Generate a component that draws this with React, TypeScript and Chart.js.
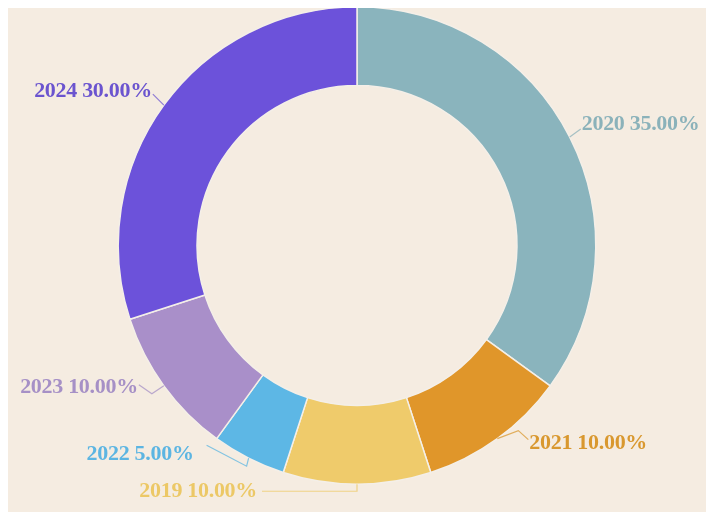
import React, { useEffect, useRef } from "react";
import { Chart, registerables } from "chart.js";

Chart.register(...registerables);

const categories = ["2020", "2021", "2019", "2022", "2023", "2024"];
const shares = [35, 10, 10, 5, 10, 30];
const sliceColors = ["#8ab4bd", "#e0962a", "#efcb6b", "#5db7e5", "#a98fc9", "#6c52da"];
const labelColors = ["#8bb2ba", "#d9982f", "#ecc866", "#5cb5e2", "#a690c6", "#6b54cf"];

// leader-line bends and text anchor, as offsets from each slice's outer mid-point
const labelLayout: { path: number[][]; text: number[]; align: CanvasTextAlign }[] = [
  { path: [[11, -8]], text: [12, -13], align: "left" },
  { path: [[21, -8], [31, 1]], text: [32, 5], align: "left" },
  { path: [[0, 7], [-95, 7]], text: [-100, 7], align: "right" },
  { path: [[-2, 8], [-42, -13]], text: [-55, -4], align: "right" },
  { path: [[-12, 8], [-25, -1]], text: [-26, 1], align: "right" },
  { path: [[-11, -11]], text: [-12, -14], align: "right" },
];

const outsideLabels = {
  id: "outsideLabels",
  afterDatasetsDraw(chart: any) {
    const ctx: CanvasRenderingContext2D = chart.ctx;
    const meta = chart.getDatasetMeta(0);
    const total = shares.reduce((a, b) => a + b, 0);
    meta.data.forEach((arc: any, i: number) => {
      const { x, y, startAngle, endAngle, outerRadius } = arc.getProps(
        ["x", "y", "startAngle", "endAngle", "outerRadius"],
        true
      );
      const mid = (startAngle + endAngle) / 2;
      const ax = x + Math.cos(mid) * outerRadius;
      const ay = y + Math.sin(mid) * outerRadius;
      const lay = labelLayout[i];
      ctx.save();
      ctx.strokeStyle = labelColors[i];
      ctx.globalAlpha = 0.75;
      ctx.lineWidth = 1.2;
      ctx.beginPath();
      ctx.moveTo(ax, ay);
      lay.path.forEach(([dx, dy]) => ctx.lineTo(ax + dx, ay + dy));
      ctx.stroke();
      ctx.globalAlpha = 1;
      ctx.fillStyle = labelColors[i];
      ctx.font = "bold 22px 'Liberation Serif', serif";
      (ctx as any).letterSpacing = "-0.3px";
      ctx.textAlign = lay.align;
      ctx.textBaseline = "middle";
      const txt = `${categories[i]} ${((shares[i] / total) * 100).toFixed(2)}%`;
      ctx.fillText(txt, ax + lay.text[0], ay + lay.text[1]);
      ctx.restore();
    });
  },
};

export default function App() {
  const ref = useRef<HTMLCanvasElement | null>(null);
  useEffect(() => {
    if (!ref.current) return;
    const chart = new Chart(ref.current, {
      type: "doughnut",
      data: {
        labels: categories,
        datasets: [
          {
            data: shares,
            backgroundColor: sliceColors,
            borderColor: "#f4efe8",
            borderWidth: 1.5,
            hoverOffset: 0,
          },
        ],
      },
      options: {
        animation: false,
        responsive: true,
        maintainAspectRatio: false,
        cutout: "67%",
        layout: { padding: { top: 0, bottom: 27, left: 0, right: 0 } },
        plugins: {
          legend: { display: false },
          tooltip: { enabled: false },
        },
        events: [],
      },
      plugins: [outsideLabels],
    });
    return () => chart.destroy();
  }, []);

  return (
    <div
      style={{
        position: "fixed",
        left: 8,
        top: 8,
        width: 698,
        height: 504,
        background: "#f5ece1",
        overflow: "hidden",
      }}
    >
      <div style={{ position: "absolute", left: 0, top: -2, width: 698, height: 506 }}>
        <canvas ref={ref} />
      </div>
    </div>
  );
}
